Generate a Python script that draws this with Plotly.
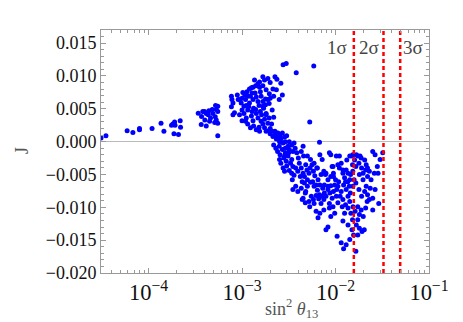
import numpy as np
import plotly.graph_objects as go

# sin^2(theta13) and Jarlskog J
s13 = [
    3.1e-5, 3.5e-5, 5.9e-5, 6.8e-5, 8.0e-5, 8.0e-5, 1.09e-4, 1.36e-4, 1.46e-4, 1.76e-4,
    1.82e-4, 1.9e-4, 1.92e-4, 1.87e-4, 2.09e-4, 2.18e-4, 2.2e-4,
    3.4e-4, 3.69e-4, 3.97e-4, 4.14e-4, 4.42e-4, 4.35e-4, 4.0e-4, 3.66e-4, 4.14e-4, 4.5e-4,
    4.6e-4, 4.88e-4, 5.21e-4, 5.5e-4, 5.3e-4, 5.5e-4, 5.17e-4, 5.3e-4, 5.1e-4, 5.5e-4,
    5.5e-4, 3.8e-4, 4.8e-4,
    7.7e-4, 7.8e-4, 8.0e-4, 7.7e-4, 8.3e-4, 8.0e-4, 9.5e-4, 1.0e-3, 1.07e-3, 1.13e-3,
    1.2e-3, 1.28e-3, 1.31e-3, 1.40e-3, 1.48e-3, 1.54e-3, 1.67e-3, 1.74e-3, 1.89e-3, 2.0e-3,
    2.14e-3, 2.25e-3, 2.36e-3, 2.6e-3, 2.7e-3, 2.5e-3, 2.1e-3, 2.18e-3, 1.95e-3, 1.78e-3,
    1.6e-3, 1.42e-3, 1.31e-3, 1.2e-3, 1.11e-3, 1.0e-3, 1.15e-3, 1.33e-3, 1.52e-3, 1.70e-3,
    1.81e-3, 1.62e-3, 1.42e-3, 1.26e-3, 1.11e-3, 1.0e-3, 1.15e-3, 1.33e-3, 1.52e-3, 1.67e-3,
    1.89e-3, 2.0e-3, 1.31e-3, 1.48e-3, 1.74e-3, 1.23e-3, 1.38e-3, 1.57e-3, 1.81e-3, 1.96e-3,
    1.67e-3, 1.48e-3, 1.09e-3, 8.9e-4, 9.4e-4, 1.05e-3, 1.54e-3, 1.42e-3,
    9.1e-4, 9.8e-4, 1.05e-3, 1.18e-3, 1.28e-3, 1.4e-3, 1.57e-3, 1.67e-3, 1.78e-3, 1.89e-3,
    2.0e-3, 2.18e-3, 2.33e-3, 1.26e-3, 1.15e-3, 1.02e-3, 1.36e-3, 1.54e-3, 1.67e-3, 1.81e-3,
    1.95e-3, 2.07e-3, 1.6e-3, 1.23e-3, 1.09e-3,
    2.75e-3, 2.97e-3, 3.8e-3, 5.85e-3, 5.3e-3, 6.74e-3,
    1.74e-3, 1.81e-3, 1.95e-3, 2.0e-3, 2.1e-3, 2.14e-3, 2.25e-3, 2.33e-3, 2.42e-3, 2.52e-3,
    2.6e-3, 2.75e-3, 2.85e-3, 2.9e-3, 3.0e-3, 3.1e-3, 3.2e-3, 2.18e-3, 2.3e-3, 2.4e-3,
    2.5e-3, 2.55e-3, 2.7e-3, 2.8e-3, 2.9e-3, 2.97e-3, 3.1e-3, 3.3e-3, 3.4e-3, 3.5e-3,
    3.6e-3, 3.7e-3, 3.85e-3, 4.0e-3, 4.1e-3, 4.3e-3, 4.5e-3, 4.55e-3, 2.52e-3, 2.6e-3,
    2.75e-3, 2.85e-3, 3.0e-3, 3.2e-3, 3.4e-3, 3.45e-3, 3.6e-3, 3.75e-3, 3.95e-3, 4.2e-3,
    4.4e-3, 4.5e-3, 3.5e-3, 3.75e-3,
    2.25e-3, 2.42e-3, 2.55e-3, 2.7e-3, 3.2e-3, 3.4e-3, 3.5e-3, 2.9e-3, 3.15e-3, 2.85e-3,
    4.8e-3, 4.95e-3, 5.2e-3, 5.35e-3, 5.6e-3, 5.8e-3, 6.0e-3, 6.3e-3, 6.5e-3, 6.8e-3,
    7.2e-3, 7.5e-3, 7.8e-3, 8.3e-3, 8.6e-3, 8.9e-3, 9.2e-3, 9.5e-3, 1.0e-2, 4.65e-3,
    5.0e-3, 5.4e-3, 5.9e-3, 6.4e-3, 6.8e-3, 7.3e-3, 7.6e-3, 8.3e-3, 8.9e-3, 9.5e-3,
    4.5e-3, 4.75e-3, 5.2e-3, 5.5e-3, 5.8e-3, 6.2e-3, 6.6e-3, 7.0e-3, 7.5e-3, 7.9e-3,
    8.6e-3, 9.2e-3, 6.2e-3, 6.8e-3, 7.5e-3, 6.5e-3, 8.6e-3, 7.9e-3, 8.3e-3, 1.04e-2,
    4.8e-3, 4.3e-3, 3.95e-3,
    4.3e-3, 4.65e-3, 5.0e-3, 5.7e-3, 6.2e-3, 6.74e-3, 7.1e-3, 7.6e-3, 8.3e-3, 8.7e-3,
    8.9e-3, 7.9e-3, 7.0e-3, 6.4e-3, 5.9e-3, 5.4e-3, 5.0e-3, 4.75e-3, 4.4e-3, 5.3e-3,
    5.9e-3, 9.4e-3, 9.8e-3, 8.9e-3,
    1.1e-2, 1.15e-2, 1.2e-2, 1.25e-2, 1.3e-2, 1.35e-2, 1.4e-2, 1.45e-2, 1.5e-2, 1.52e-2,
    1.6e-2, 1.67e-2, 1.78e-2, 1.83e-2, 1.9e-2, 1.97e-2, 2.1e-2, 2.2e-2, 2.3e-2, 2.4e-2,
    2.5e-2, 2.65e-2, 2.8e-2, 2.85e-2, 3.0e-2, 3.2e-2, 2.65e-2, 2.9e-2, 2.5e-2, 2.3e-2,
    2.2e-2, 2.13e-2, 2.05e-2, 1.9e-2, 1.78e-2, 1.65e-2, 1.58e-2, 1.53e-2, 1.44e-2, 1.36e-2,
    1.3e-2, 1.22e-2, 1.15e-2, 1.08e-2, 1.06e-2, 1.12e-2, 1.2e-2, 1.28e-2, 1.36e-2, 1.42e-2,
    1.46e-2, 1.54e-2, 1.62e-2, 1.73e-2, 1.8e-2, 1.88e-2, 1.98e-2, 2.1e-2, 2.18e-2, 1.73e-2,
    1.67e-2, 1.8e-2, 1.92e-2, 2.03e-2, 1.73e-2, 1.56e-2, 1.42e-2, 1.3e-2, 1.22e-2, 1.15e-2,
    1.65e-2, 1.36e-2, 1.2e-2, 1.52e-2, 1.5e-2, 1.25e-2, 1.18e-2, 1.06e-2, 1.02e-2, 1.03e-2,
    9.8e-3, 9.5e-3, 2.5e-2, 2.35e-2, 2.6e-2,
    1.32e-2, 1.42e-2, 1.53e-2, 1.73e-2, 1.88e-2, 2.05e-2, 1.53e-2, 1.65e-2, 1.8e-2, 1.97e-2,
    2.13e-2, 2.2e-2, 1.36e-2, 1.42e-2, 1.28e-2, 1.2e-2, 1.06e-2, 9.4e-3, 1.02e-2, 1.1e-2,
]
J = [
    0.00054, 0.0009, 0.00166, 0.0014, 0.002, 0.0018, 0.002, 0.0028, 0.0016, 0.0025,
    0.0027, 0.003, 0.0025, 0.0012, 0.0011, 0.0032, 0.0022,
    0.00434, 0.00384, 0.0046, 0.0043, 0.0047, 0.0041, 0.0033, 0.0026, 0.0024, 0.0031,
    0.0036, 0.0043, 0.0055, 0.0054, 0.0049, 0.0046, 0.0038, 0.0033, 0.0029, 0.0028,
    0.0009, 0.0046, 0.0049,
    0.0069, 0.0064, 0.0059, 0.0053, 0.0044, 0.0041, 0.0064, 0.0066, 0.0071, 0.0076,
    0.0080, 0.0074, 0.0083, 0.0085, 0.0088, 0.0083, 0.0085, 0.0094, 0.0096, 0.0090,
    0.0080, 0.0099, 0.0095, 0.0089, 0.0071, 0.0064, 0.0048, 0.0037, 0.0058, 0.0065,
    0.0069, 0.0068, 0.0064, 0.0059, 0.0055, 0.0048, 0.0048, 0.0051, 0.0055, 0.0051,
    0.0043, 0.0041, 0.0043, 0.0039, 0.0036, 0.0032, 0.0027, 0.0024, 0.0022, 0.0027,
    0.0028, 0.0020, 0.0032, 0.0036, 0.0034, 0.0069, 0.0074, 0.0076, 0.0079, 0.0073,
    0.0061, 0.0061, 0.0064, 0.0071, 0.0041, 0.0043, 0.0016, 0.0018,
    0.0064, 0.0059, 0.0054, 0.0053, 0.0046, 0.0049, 0.0046, 0.0054, 0.0056, 0.0064,
    0.0066, 0.0069, 0.0079, 0.0082, 0.0069, 0.0075, 0.0094, 0.0091, 0.0099, 0.0041,
    0.0036, 0.0027, 0.0031, 0.0021, 0.0031,
    0.0117, 0.0119, 0.0105, 0.0115, 0.0030, -0.0001,
    0.0021, 0.0016, 0.0017, 0.0012, 0.0016, 0.0008, 0.0010, 0.0004, 0.0007, 0.0000,
    0.0004, -0.0002, 0.0007, 0.0000, 0.0009, -0.0007, -0.0012, -0.0005, -0.0010, -0.0015,
    -0.0007, -0.0020, -0.0012, -0.0025, -0.0017, -0.0030, -0.0022, -0.0033, -0.0027, -0.0038,
    -0.0002, -0.0010, -0.0017, -0.0025, -0.0033, -0.0015, -0.0007, -0.0022, -0.0027, -0.0033,
    -0.0040, -0.0045, -0.0037, -0.0044, -0.0048, -0.0058, -0.0051, -0.0040, -0.0045, -0.0053,
    -0.0061, -0.0048, -0.0073, -0.0068,
    0.0016, 0.0013, 0.0009, 0.0013, 0.0000, -0.0005, -0.0015, -0.0010, -0.0017, -0.0022,
    -0.0035, -0.0043, -0.0048, -0.0040, -0.0035, -0.0045, -0.0052, -0.0040, -0.0058, -0.0020,
    -0.0027, -0.0045, -0.0050, -0.0058, -0.0017, -0.0020, -0.0038, -0.0048, -0.0058, -0.0063,
    -0.0068, -0.0062, -0.0068, -0.0074, -0.0066, -0.0071, -0.0078, -0.0073, -0.0067, -0.0076,
    -0.0086, -0.0093, -0.0091, -0.0083, -0.0088, -0.0082, -0.0087, -0.0094, -0.0088, -0.0083,
    -0.0094, -0.0086, -0.0106, -0.0109, -0.0104, -0.0116, -0.0101, -0.0134, -0.0130, -0.0144,
    -0.0076, -0.0071, -0.0076,
    -0.0040, -0.0053, -0.0058, -0.0061, -0.0066, -0.0081, -0.0083, -0.0066, -0.0068, -0.0078,
    -0.0053, -0.0048, -0.0050, -0.0040, -0.0033, -0.0027, -0.0022, -0.0078, -0.0088, -0.0099,
    -0.0094, -0.0099, -0.0109, -0.0114,
    -0.0040, -0.0033, -0.0048, -0.0055, -0.0043, -0.0061, -0.0068, -0.0050, -0.0022, -0.0035,
    -0.0028, -0.0020, -0.0033, -0.0022, -0.0040, -0.0048, -0.0043, -0.0053, -0.0045, -0.0058,
    -0.0015, -0.0020, -0.0038, -0.0048, -0.0027, -0.0017, -0.0073, -0.0094, -0.0104, -0.0088,
    -0.0081, -0.0068, -0.0076, -0.0083, -0.0073, -0.0063, -0.0058, -0.0068, -0.0078, -0.0083,
    -0.0073, -0.0066, -0.0076, -0.0061, -0.0068, -0.0083, -0.0088, -0.0096, -0.0101, -0.0091,
    -0.0109, -0.0099, -0.0106, -0.0099, -0.0111, -0.0104, -0.0114, -0.0101, -0.0091, -0.0119,
    -0.0127, -0.0132, -0.0137, -0.0134, -0.0142, -0.0142, -0.0149, -0.0157, -0.0163, -0.0154,
    -0.0167, -0.0127, -0.0121, -0.0119, -0.0134, -0.0109, -0.0099, -0.0093, -0.0083, -0.0073,
    -0.0066, -0.0053, -0.0086, -0.0071, -0.0048,
    -0.0028, -0.0022, -0.0020, -0.0022, -0.0025, -0.0028, -0.0045, -0.0038, -0.0050, -0.0058,
    -0.0035, -0.0040, -0.0048, -0.0058, -0.0061, -0.0043, -0.0035, -0.0038, -0.0022, -0.0022,
]

sigma_bounds = [0.0157, 0.0326, 0.0492]
sigma_labels = ["1σ", "2σ", "3σ"]

serif = "Liberation Serif"

fig = go.Figure()
fig.add_trace(go.Scatter(
    x=s13, y=J, mode="markers",
    marker=dict(color="#0000ff", size=5, line=dict(width=0)),
    showlegend=False,
))
for b in sigma_bounds:
    fig.add_trace(go.Scatter(
        x=[b, b], y=[-0.02, 0.017], mode="lines",
        line=dict(color="#ff0000", width=2.5, dash="4px,3px"),
        showlegend=False,
    ))

for b, lab, side, dx in zip(sigma_bounds, sigma_labels, ["right", "right", "left"], [-5, -2, 1]):
    fig.add_annotation(
        x=np.log10(b), y=0.0143, text=lab, showarrow=False,
        xanchor=side, yanchor="middle", xshift=dx,
        font=dict(family=serif, size=19, color="#444444"),
    )

# axis titles as annotations so they sit where the original has them
fig.add_annotation(
    x=0.582, y=-0.148, xref="paper", yref="paper", showarrow=False,
    text="sin<sup>2</sup> <i>θ</i><sub>13</sub>", xanchor="center", yanchor="middle",
    font=dict(family=serif, size=18, color="#555555"),
)
fig.add_annotation(
    x=-0.241, y=0.506, xref="paper", yref="paper", showarrow=False,
    text="J", textangle=-90, xanchor="center", yanchor="middle",
    font=dict(family=serif, size=18, color="#555555"),
)

axis_style = dict(
    showline=True, linecolor="#999999", linewidth=1, mirror="ticks",
    ticks="inside", ticklen=5, tickcolor="#999999", automargin=False,
    showgrid=False, tickfont=dict(family=serif, size=18, color="#111111"),
)

fig.update_xaxes(
    type="log", range=[np.log10(3.1e-5), -1], dtick=1,
    exponentformat="power", showexponent="all",
    minor=dict(ticks="inside", ticklen=3, tickcolor="#999999"),
    **axis_style,
)
fig.update_yaxes(
    range=[-0.020, 0.017], tick0=0, dtick=0.005, tickformat=".3f",
    minor=dict(ticks="inside", ticklen=3, tickcolor="#999999", dtick=0.001),
    zeroline=True, zerolinecolor="#bbbbbb", zerolinewidth=1,
    **axis_style,
)
# page body adds an 8px offset, so margins are shifted to compensate
fig.update_layout(
    width=463, height=322,
    margin=dict(l=93, r=42, t=22, b=57),
    plot_bgcolor="white", paper_bgcolor="white",
)
fig.write_html("out.html")
